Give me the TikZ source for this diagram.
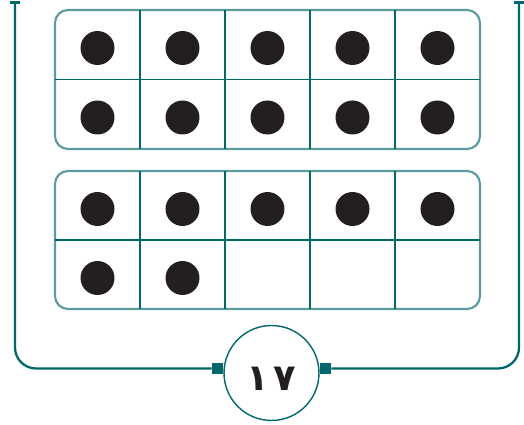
\documentclass[tikz,border=0pt]{standalone}
\usepackage{fontspec}
\newfontfamily\arabicfont[Script=Arabic]{DejaVu Sans}
\usepackage{xcolor}
\definecolor{frteal}{RGB}{0,104,107}
\definecolor{frlight}{RGB}{90,155,158}
\definecolor{dotblack}{RGB}{35,31,32}
\usepackage{tikz}
\usetikzlibrary{positioning}

\begin{document}
\begin{tikzpicture}[x=0.02cm, y=-0.02cm,
    framebox/.style={draw=frlight, line width=1.2pt, rounded corners=0.26cm},
    vgrid/.style={frteal, line width=1.1pt},
    hgrid/.style={frteal, line width=0.7pt},
    counter/.style={fill=dotblack},
    wire/.style={frteal, line width=1.3pt},
    numcirc/.style={circle, draw=frteal, line width=0.8pt, fill=white, minimum size=1.9cm, inner sep=0pt},
    numtext/.style={font=\arabicfont\bfseries\fontsize{21}{24}\selectfont, text=dotblack, inner sep=0pt},
    sqbox/.style={rectangle, fill=frteal, minimum size=0.22cm, inner sep=0pt}]
  % Background
  \useasboundingbox (0,0) rectangle (524,425);

  % --- Ten frame 1 ---
  \draw[framebox] (55,10) rectangle (480,149);
  \foreach \x in {140,225,310,395}
    \draw[vgrid] (\x,10) -- (\x,149);
  \draw[hgrid] (55,79.5) -- (480,79.5);
  \foreach \i in {0,...,4} {
    \fill[counter] (97.5+85*\i,48) circle (0.34cm);
    \fill[counter] (97.5+85*\i,117.5) circle (0.34cm);
  }

  % --- Ten frame 2 ---
  \draw[framebox] (55,171) rectangle (480,309);
  \foreach \x in {140,225,310,395}
    \draw[vgrid] (\x,171) -- (\x,309);
  \draw[hgrid] (55,240) -- (480,240);
  \foreach \i in {0,...,4}
    \fill[counter] (97.5+85*\i,209) circle (0.34cm);
  \foreach \i in {0,1}
    \fill[counter] (97.5+85*\i,278) circle (0.34cm);

  % Number circle
  \node[numcirc] (num) at (271.5,373) {};
  \node[numtext] (numtxt) at ([yshift=-0.11cm]num.center) {١\kern0.1cm٧};
  \node[sqbox, anchor=east] (lsq) at ([yshift=0.09cm]num.west) {};
  \node[sqbox, anchor=west] (rsq) at ([yshift=0.09cm]num.east) {};

  % Outer line
  \coordinate (tl) at (15,2.5);
  \coordinate (tr) at (519,2.5);
  \draw[wire, rounded corners=0.42cm] (lsq.west) -| (tl);
  \draw[wire, rounded corners=0.42cm] (rsq.east) -| (tr);
  \draw[wire] ([xshift=-0.11cm]tl) -- ([xshift=0.11cm]tl);
  \draw[wire] ([xshift=-0.11cm]tr) -- ([xshift=0.11cm]tr);
\end{tikzpicture}
\end{document}
